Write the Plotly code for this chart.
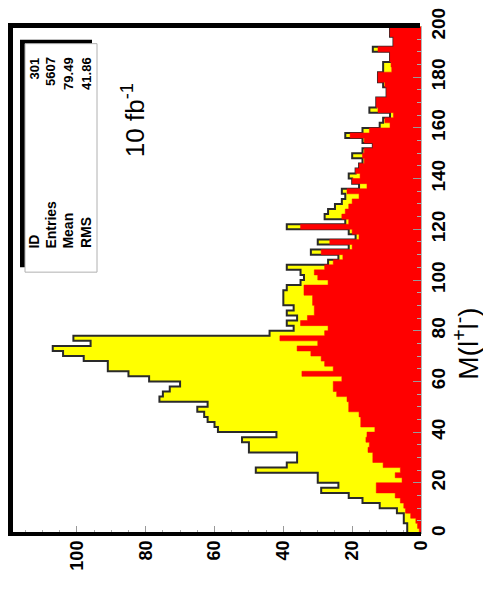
import plotly.graph_objects as go

# ---- data: histogram of M(l+l-) in 2-unit bins from 0 to 200 ----
bin_edges = list(range(0, 202, 2))

total_counts = [
    4, 4, 5, 5, 7, 12, 17, 21, 29, 24,
    30, 30, 48, 39, 36, 36, 50, 50, 52, 42,
    59, 60, 62, 63, 65, 62, 76, 75, 73, 70,
    79, 85, 91, 91, 98, 104, 107, 96, 101, 44,
    37, 39, 36, 39, 37, 40, 40, 40, 39, 35,
    34, 35, 39, 27, 24, 32, 21, 30, 19, 21,
    39, 22, 28, 27, 25, 23, 22, 23, 18, 20,
    21, 19, 18, 17, 20, 17, 14, 17, 22, 17,
    12, 11, 9, 15, 13, 13, 10, 10, 11, 12.5,
    12.5, 11, 11, 9, 9, 14, 8, 8, 9, 9,
]

background_counts = [
    0.5, 1, 1.5, 3, 4.5, 5, 6, 7.5, 13, 13,
    5.5, 7.5, 6, 11, 14, 14, 15.4, 15, 16, 15.7,
    13.4, 17.5, 17.5, 18, 21, 21, 21.5, 24.5, 25.5, 25.5,
    23, 34.6, 25.5, 28, 29, 32, 36, 30, 41, 28,
    27, 35, 33, 31, 31, 31.5, 31.5, 34, 34, 27,
    30, 31, 28, 25.5, 22.7, 29, 20, 26.5, 18, 20,
    35, 21, 23, 22, 21, 20, 18, 21.5, 15.7, 20,
    17.7, 19, 18, 16.5, 17, 16.5, 14, 16.5, 20.6, 15,
    9, 10.5, 8, 12.5, 13, 13, 10, 10, 10.5, 12.5,
    12.5, 8.5, 8.7, 9, 9, 12.5, 8, 8, 9, 9,
]

count_ticks = [0, 20, 40, 60, 80, 100]
mass_ticks = [0, 20, 40, 60, 80, 100, 120, 140, 160, 180, 200]

stats_labels = ["ID", "Entries", "Mean", "RMS"]
stats_values = ["301", "5607", "79.49", "41.86"]

# ---- derived step paths (drawn through the data axes) ----
def step_path(counts):
    xs = [0] + list(counts) + [counts[-1]]
    ys = [bin_edges[0]] + bin_edges
    return xs, ys


tot_x, tot_y = step_path(total_counts)
bkg_x, bkg_y = step_path(background_counts)

W, H = 483, 592
L, R, T, B = 8, 62, 16, 58
PW, PH = W - L - R, H - T - B


def px(x):
    return (x - L) / PW


def py(y):
    return (H - B - y) / PH


FONT = "Liberation Sans, Arial, Helvetica, sans-serif"

fig = go.Figure()
fig.add_trace(go.Scatter(
    x=tot_x, y=tot_y, mode="lines", line=dict(shape="vh", color="#2a2a2a", width=2),
    fill="tozerox", fillcolor="#ffff00", showlegend=False, hoverinfo="skip",
))
fig.add_trace(go.Scatter(
    x=bkg_x, y=bkg_y, mode="lines", line=dict(shape="vh", color="#ff0000", width=0.5),
    fill="tozerox", fillcolor="#ff0000", showlegend=False, hoverinfo="skip",
))

shapes = [
    dict(type="line", xref="paper", yref="paper", x0=px(10.5), x1=px(10.5), y0=py(536), y1=py(13),
         line=dict(color="black", width=5)),
    dict(type="line", xref="paper", yref="paper", x0=px(8), x1=px(420), y0=py(15.5), y1=py(15.5),
         line=dict(color="black", width=5)),
    dict(type="line", xref="paper", yref="paper", x0=px(8), x1=px(421), y0=py(534), y1=py(534),
         line=dict(color="black", width=4)),
    dict(type="rect", xref="paper", yref="paper", x0=px(20), x1=px(92), y0=py(262), y1=py(30),
         fillcolor="black", line=dict(width=0)),
    dict(type="rect", xref="paper", yref="paper", x0=px(25), x1=px(97), y0=py(267), y1=py(34),
         fillcolor="white", line=dict(color="#b0b0b0", width=1)),
]

annotations = []
label_x = [34, 51, 68, 86]
value_x = [34, 51, 69, 87]
for lab, xx in zip(stats_labels, label_x):
    annotations.append(dict(text=lab, x=px(xx), y=py(245), xref="paper", yref="paper",
                            xanchor="center", yanchor="bottom", textangle=-90, showarrow=False,
                            font=dict(family=FONT, size=14, color="black", weight="bold")))
for val, xx in zip(stats_values, value_x):
    annotations.append(dict(text=val, x=px(xx), y=py(46), xref="paper", yref="paper",
                            xanchor="center", yanchor="top", textangle=-90, showarrow=False,
                            font=dict(family=FONT, size=13, color="black", weight="bold")))
annotations.append(dict(text="10 fb<sup>-1</sup>", x=px(133), y=py(112), xref="paper", yref="paper",
                        xanchor="center", yanchor="middle", textangle=-90, showarrow=False,
                        font=dict(family=FONT, size=26, color="black")))
annotations.append(dict(text="M(l<sup>+</sup>l<sup>-</sup>)", x=px(466), y=py(340), xref="paper",
                        yref="paper", xanchor="center", yanchor="middle", textangle=-90,
                        showarrow=False, font=dict(family=FONT, size=28, color="black")))

fig.update_layout(
    width=W, height=H,
    margin=dict(l=L, r=R, t=T, b=B, pad=0),
    paper_bgcolor="white", plot_bgcolor="white",
    shapes=shapes, annotations=annotations,
    showlegend=False,
    xaxis=dict(
        range=[120, 0], tickvals=count_ticks, ticktext=[str(v) for v in count_ticks],
        tickangle=-90, ticks="inside", ticklen=8, tickwidth=1, tickcolor="#999999",
        minor=dict(dtick=5, tick0=0, ticks="inside", ticklen=4, tickcolor="#aaaaaa"),
        tickfont=dict(family=FONT, size=18, color="black", weight="bold"),
        showgrid=False, zeroline=False, showline=False, fixedrange=True,
        ticklabelstandoff=2, ticklabeloverflow="allow",
    ),
    yaxis=dict(
        range=[-0.2, 200.2], side="right", tickvals=mass_ticks, ticktext=[str(v) for v in mass_ticks],
        tickangle=-90, ticks="inside", ticklen=8, tickwidth=1, tickcolor="#999999",
        minor=dict(dtick=5, tick0=0, ticks="inside", ticklen=4, tickcolor="#aaaaaa"),
        tickfont=dict(family=FONT, size=19, color="black", weight="bold"),
        showgrid=False, zeroline=False, showline=True, linecolor="#b5b5b5", linewidth=1,
        fixedrange=True, ticklabeloverflow="allow",
    ),
)

fig.write_html("out.html")
